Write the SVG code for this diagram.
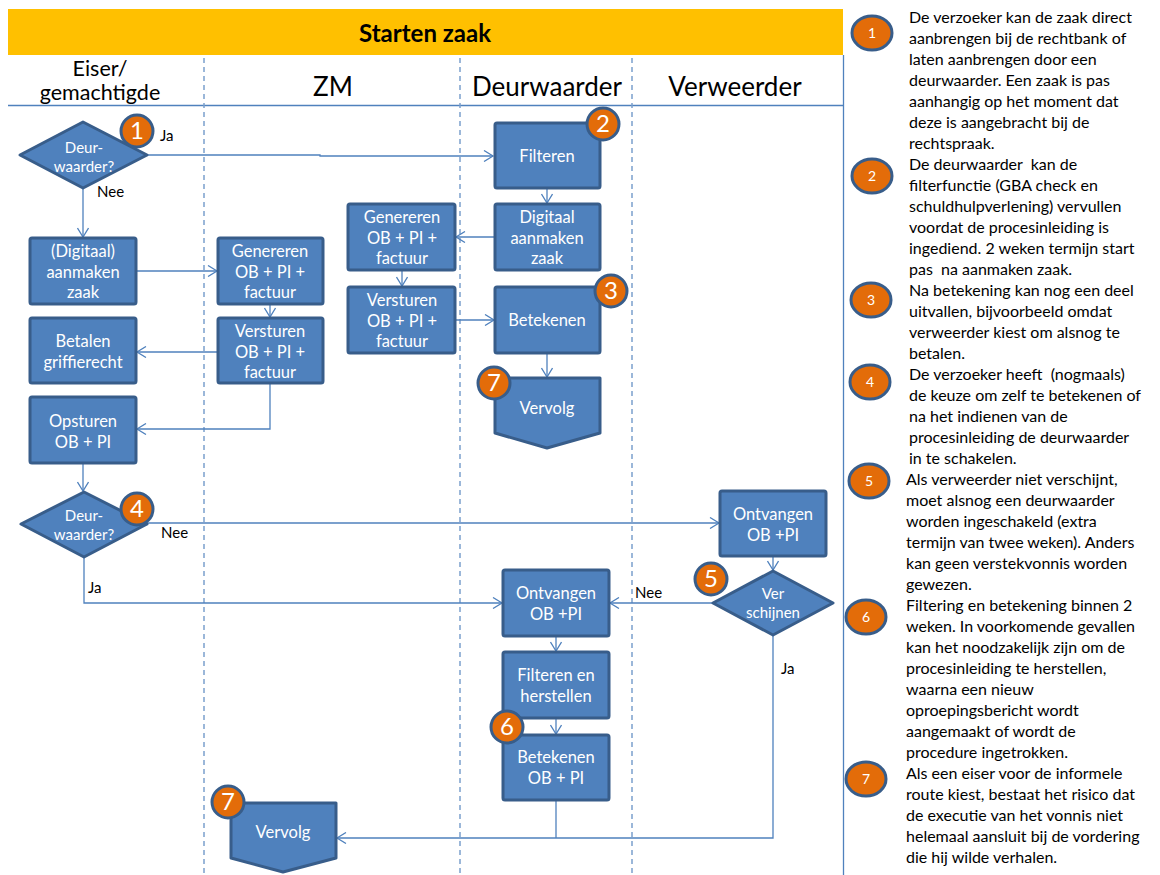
<svg xmlns="http://www.w3.org/2000/svg" width="1160" height="875" viewBox="0 0 1160 875">
<defs>
<marker id="arr" markerWidth="12" markerHeight="12" refX="10" refY="6" orient="auto" markerUnits="userSpaceOnUse">
<path d="M1,0.5 L10,6 L1,11.5" fill="none" stroke="#4F81BD" stroke-width="1.3"/>
</marker>
</defs>
<style>
.bx{fill:#4F81BD;stroke:#385D8A;stroke-width:3;stroke-linejoin:round}
.bt{font-family:Lato,"Liberation Sans",sans-serif;font-size:16.5px;fill:#fff;text-anchor:middle}
.dt{font-family:Lato,"Liberation Sans",sans-serif;font-size:15px;fill:#fff;text-anchor:middle}
.bd{fill:#E36C09;stroke:#385D8A;stroke-width:3}
.bn{font-family:Lato,"Liberation Sans",sans-serif;font-size:24px;fill:#fff;text-anchor:middle}
.lb{font-family:Lato,"Liberation Sans",sans-serif;font-size:15px;fill:#000}
.ln{font-family:Lato,"Liberation Sans",sans-serif;font-size:26px;fill:#000;text-anchor:middle}
.nt{font-family:Lato,"Liberation Sans",sans-serif;font-size:16px;fill:#000}
.ne{fill:#E36C09;stroke:#385D8A;stroke-width:3}
.nn{font-family:Lato,"Liberation Sans",sans-serif;font-size:14px;fill:#fff;text-anchor:middle}
.c{fill:none;stroke:#4F81BD;stroke-width:1.3}
.dash{stroke:#7BA0CD;stroke-width:1.5;stroke-dasharray:5,4}
</style>
<rect width="1160" height="875" fill="#fff"/>
<g id="header">
<rect x="8" y="9" width="835" height="46" fill="#FFC000"/>
<text x="425" y="42" font-family="Lato,'Liberation Sans',sans-serif" font-size="24" font-weight="bold" text-anchor="middle">Starten zaak</text>
</g>
<g id="lanes">
<line x1="8" y1="105.5" x2="843" y2="105.5" stroke="#4F81BD" stroke-width="1.3"/>
<line x1="843.5" y1="55" x2="843.5" y2="875" stroke="#4F81BD" stroke-width="1.3"/>
<line class="dash" x1="204" y1="58" x2="204" y2="875"/>
<line class="dash" x1="460" y1="58" x2="460" y2="875"/>
<line class="dash" x1="632" y1="58" x2="632" y2="875"/>
<text x="100" y="76" font-family="Lato,'Liberation Sans',sans-serif" font-size="21.5" text-anchor="middle">Eiser/</text>
<text x="100" y="100" font-family="Lato,'Liberation Sans',sans-serif" font-size="21.5" text-anchor="middle">gemachtigde</text>
<text class="ln" x="333" y="96">ZM</text>
<text class="ln" x="547" y="96">Deurwaarder</text>
<text class="ln" x="735" y="96">Verweerder</text>
</g>
<g id="connectors">
<path class="c" d="M147,155 H320 V156 H493" marker-end="url(#arr)"/>
<path class="c" d="M83,188 V237" marker-end="url(#arr)"/>
<path class="c" d="M136,271 H217" marker-end="url(#arr)"/>
<path class="c" d="M270,304 V317" marker-end="url(#arr)"/>
<path class="c" d="M218,352 H137" marker-end="url(#arr)"/>
<path class="c" d="M270,383 V429 H137" marker-end="url(#arr)"/>
<path class="c" d="M83,463 V491" marker-end="url(#arr)"/>
<path class="c" d="M147,523 H719" marker-end="url(#arr)"/>
<path class="c" d="M84,557 V603 H502" marker-end="url(#arr)"/>
<path class="c" d="M773,556 V570" marker-end="url(#arr)"/>
<path class="c" d="M713,603 H610" marker-end="url(#arr)"/>
<path class="c" d="M773,635 V838 H337" marker-end="url(#arr)"/>
<path class="c" d="M556,800 V838"/>
<path class="c" d="M556,636 V651" marker-end="url(#arr)"/>
<path class="c" d="M556,718 V734" marker-end="url(#arr)"/>
<path class="c" d="M547,188 V203" marker-end="url(#arr)"/>
<path class="c" d="M495,237 H456" marker-end="url(#arr)"/>
<path class="c" d="M402,270 V286" marker-end="url(#arr)"/>
<path class="c" d="M455,320 H494" marker-end="url(#arr)"/>
<path class="c" d="M547,353 V377" marker-end="url(#arr)"/>
</g>
<g id="labels">
<text class="lb" x="160" y="141">Ja</text>
<text class="lb" x="97" y="197">Nee</text>
<text class="lb" x="161" y="538">Nee</text>
<text class="lb" x="88" y="593">Ja</text>
<text class="lb" x="635" y="598">Nee</text>
<text class="lb" x="781" y="674">Ja</text>
</g>
<g id="d1">
<path class="bx" d="M20,155 L83,122 L147,155 L83,188 Z"/>
<text class="dt" x="84" y="153">Deur-</text>
<text class="dt" x="84" y="172">waarder?</text>
</g>
<g id="n-digitaal-eiser">
<rect class="bx" x="30" y="238" width="106" height="66" rx="2"/>
<text class="bt" x="83" y="257">(Digitaal)</text>
<text class="bt" x="83" y="278">aanmaken</text>
<text class="bt" x="83" y="298">zaak</text>
</g>
<g id="n-genereren-zm1">
<rect class="bx" x="218" y="238" width="105" height="66" rx="2"/>
<text class="bt" x="270" y="257">Genereren</text>
<text class="bt" x="270" y="278">OB + PI +</text>
<text class="bt" x="270" y="298">factuur</text>
</g>
<g id="n-versturen-zm1">
<rect class="bx" x="218" y="318" width="105" height="65" rx="2"/>
<text class="bt" x="270" y="337">Versturen</text>
<text class="bt" x="270" y="358">OB + PI +</text>
<text class="bt" x="270" y="378">factuur</text>
</g>
<g id="n-betalen">
<rect class="bx" x="30" y="318" width="106" height="65" rx="2"/>
<text class="bt" x="83" y="347">Betalen</text>
<text class="bt" x="83" y="368">griffierecht</text>
</g>
<g id="n-opsturen">
<rect class="bx" x="30" y="397" width="106" height="66" rx="2"/>
<text class="bt" x="83" y="427">Opsturen</text>
<text class="bt" x="83" y="448">OB + PI</text>
</g>
<g id="d4">
<path class="bx" d="M21,524 L84,492 L147,524 L84,557 Z"/>
<text class="dt" x="84" y="521">Deur-</text>
<text class="dt" x="84" y="540">waarder?</text>
</g>
<g id="n-filteren">
<rect class="bx" x="495" y="123" width="105" height="65" rx="2"/>
<text class="bt" x="547" y="162">Filteren</text>
</g>
<g id="n-digitaal-dw">
<rect class="bx" x="495" y="204" width="105" height="66" rx="2"/>
<text class="bt" x="547" y="223">Digitaal</text>
<text class="bt" x="547" y="244">aanmaken</text>
<text class="bt" x="547" y="264">zaak</text>
</g>
<g id="n-genereren-zm2">
<rect class="bx" x="348" y="204" width="107" height="66" rx="2"/>
<text class="bt" x="402" y="223">Genereren</text>
<text class="bt" x="402" y="244">OB + PI +</text>
<text class="bt" x="402" y="264">factuur</text>
</g>
<g id="n-versturen-zm2">
<rect class="bx" x="348" y="287" width="107" height="66" rx="2"/>
<text class="bt" x="402" y="306">Versturen</text>
<text class="bt" x="402" y="327">OB + PI +</text>
<text class="bt" x="402" y="347">factuur</text>
</g>
<g id="n-betekenen-dw">
<rect class="bx" x="495" y="287" width="105" height="66" rx="2"/>
<text class="bt" x="547" y="326">Betekenen</text>
</g>
<g id="n-vervolg-dw">
<path class="bx" d="M495,378 H600 V433 L547,448 L495,433 Z"/>
<text class="bt" x="547" y="414">Vervolg</text>
</g>
<g id="n-ontvangen-vw">
<rect class="bx" x="720" y="491" width="106" height="65" rx="2"/>
<text class="bt" x="773" y="520">Ontvangen</text>
<text class="bt" x="773" y="541">OB +PI</text>
</g>
<g id="d5">
<path class="bx" d="M713,603 L773,571 L833,603 L773,635 Z"/>
<text class="dt" x="773" y="599">Ver</text>
<text class="dt" x="773" y="618">schijnen</text>
</g>
<g id="n-ontvangen-dw">
<rect class="bx" x="503" y="570" width="106" height="66" rx="2"/>
<text class="bt" x="556" y="599">Ontvangen</text>
<text class="bt" x="556" y="620">OB +PI</text>
</g>
<g id="n-filteren-herstellen">
<rect class="bx" x="503" y="652" width="106" height="66" rx="2"/>
<text class="bt" x="556" y="681">Filteren en</text>
<text class="bt" x="556" y="702">herstellen</text>
</g>
<g id="n-betekenen-obpi">
<rect class="bx" x="503" y="735" width="106" height="65" rx="2"/>
<text class="bt" x="556" y="763">Betekenen</text>
<text class="bt" x="556" y="784">OB + PI</text>
</g>
<g id="n-vervolg-zm">
<path class="bx" d="M231,803 H336 V858 L283,872 L231,858 Z"/>
<text class="bt" x="283" y="838">Vervolg</text>
</g>
<g id="badges">
<circle class="bd" cx="137" cy="131" r="16"/><text class="bn" x="137" y="139">1</text>
<circle class="bd" cx="603" cy="124" r="16"/><text class="bn" x="603" y="132">2</text>
<circle class="bd" cx="611" cy="291" r="16"/><text class="bn" x="611" y="299">3</text>
<circle class="bd" cx="494" cy="383" r="16"/><text class="bn" x="494" y="391">7</text>
<circle class="bd" cx="137" cy="509" r="16"/><text class="bn" x="137" y="517">4</text>
<circle class="bd" cx="711" cy="579" r="16"/><text class="bn" x="711" y="587">5</text>
<circle class="bd" cx="507" cy="727" r="16"/><text class="bn" x="507" y="735">6</text>
<circle class="bd" cx="228" cy="802" r="16"/><text class="bn" x="228" y="810">7</text>
</g>
<g id="notes">
<ellipse class="ne" cx="872" cy="33" rx="20" ry="17"/><text class="nn" x="872" y="38">1</text>
<ellipse class="ne" cx="872" cy="176" rx="20" ry="17"/><text class="nn" x="872" y="181">2</text>
<ellipse class="ne" cx="871" cy="300" rx="20" ry="17"/><text class="nn" x="871" y="305">3</text>
<ellipse class="ne" cx="870" cy="382" rx="20" ry="17"/><text class="nn" x="870" y="387">4</text>
<ellipse class="ne" cx="869" cy="481" rx="20" ry="17"/><text class="nn" x="869" y="486">5</text>
<ellipse class="ne" cx="866" cy="617" rx="20" ry="17"/><text class="nn" x="866" y="622">6</text>
<ellipse class="ne" cx="866" cy="779" rx="20" ry="17"/><text class="nn" x="866" y="784">7</text>
<text class="nt" x="909" y="23">De verzoeker kan de zaak direct</text>
<text class="nt" x="909" y="44">aanbrengen bij de rechtbank of</text>
<text class="nt" x="909" y="65">laten aanbrengen door een</text>
<text class="nt" x="909" y="86">deurwaarder. Een zaak is pas</text>
<text class="nt" x="909" y="107">aanhangig op het moment dat</text>
<text class="nt" x="909" y="128">deze is aangebracht bij de</text>
<text class="nt" x="909" y="149">rechtspraak.</text>
<text class="nt" x="909" y="170" xml:space="preserve">De deurwaarder  kan de</text>
<text class="nt" x="909" y="191">filterfunctie (GBA check en</text>
<text class="nt" x="909" y="212">schuldhulpverlening) vervullen</text>
<text class="nt" x="909" y="233">voordat de procesinleiding is</text>
<text class="nt" x="909" y="254">ingediend. 2 weken termijn start</text>
<text class="nt" x="909" y="275" xml:space="preserve">pas  na aanmaken zaak.</text>
<text class="nt" x="909" y="296">Na betekening kan nog een deel</text>
<text class="nt" x="909" y="317">uitvallen, bijvoorbeeld omdat</text>
<text class="nt" x="909" y="338">verweerder kiest om alsnog te</text>
<text class="nt" x="909" y="359">betalen.</text>
<text class="nt" x="909" y="380" xml:space="preserve">De verzoeker heeft  (nogmaals)</text>
<text class="nt" x="909" y="401">de keuze om zelf te betekenen of</text>
<text class="nt" x="909" y="422">na het indienen van de</text>
<text class="nt" x="909" y="443">procesinleiding de deurwaarder</text>
<text class="nt" x="909" y="464">in te schakelen.</text>
<text class="nt" x="906" y="485">Als verweerder niet verschijnt,</text>
<text class="nt" x="906" y="506">moet alsnog een deurwaarder</text>
<text class="nt" x="906" y="527">worden ingeschakeld (extra</text>
<text class="nt" x="906" y="548">termijn van twee weken). Anders</text>
<text class="nt" x="906" y="569">kan geen verstekvonnis worden</text>
<text class="nt" x="906" y="590">gewezen.</text>
<text class="nt" x="906" y="611">Filtering en betekening binnen 2</text>
<text class="nt" x="906" y="632">weken. In voorkomende gevallen</text>
<text class="nt" x="906" y="653">kan het noodzakelijk zijn om de</text>
<text class="nt" x="906" y="674">procesinleiding te herstellen,</text>
<text class="nt" x="906" y="695">waarna een nieuw</text>
<text class="nt" x="906" y="716">oproepingsbericht wordt</text>
<text class="nt" x="906" y="737">aangemaakt of wordt de</text>
<text class="nt" x="906" y="758">procedure ingetrokken.</text>
<text class="nt" x="906" y="779">Als een eiser voor de informele</text>
<text class="nt" x="906" y="800">route kiest, bestaat het risico dat</text>
<text class="nt" x="906" y="821">de executie van het vonnis niet</text>
<text class="nt" x="906" y="842">helemaal aansluit bij de vordering</text>
<text class="nt" x="906" y="863">die hij wilde verhalen.</text>
</g>
</svg>
